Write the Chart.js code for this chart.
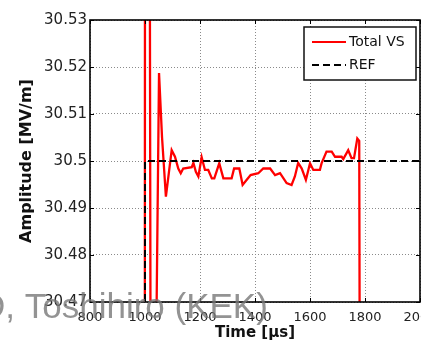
<!DOCTYPE html>
<html lang="en">
<head>
  <meta charset="UTF-8" />
  <title>Total VS vs REF</title>
  <script src="https://cdn.jsdelivr.net/npm/chart.js"></script>
  <style>
    body {
      margin: 0;
      padding: 0;
      background: #fff;
      overflow: hidden;
    }
    .wrap {
      width: 421px;
      height: 344px;
    }
  </style>
</head>
<body>
  <div class="wrap">
    <canvas id="vsChart" width="421" height="344"></canvas>
  </div>

  <script>
    // Total VS amplitude (time in us, amplitude in MV/m)
    const vsTime = [800, 999, 1000, 1017, 1022, 1030, 1051, 1062, 1076, 1097, 1109, 1121, 1130, 1139,
      1170, 1176, 1185, 1194, 1206, 1218, 1230, 1243, 1252, 1270, 1285, 1315, 1324, 1343, 1355,
      1370, 1384, 1412, 1430, 1455, 1473, 1491, 1515, 1533, 1545, 1557, 1570, 1585, 1594, 1600,
      1612, 1636, 1642, 1660, 1679, 1691, 1715, 1721, 1739, 1751, 1760, 1772, 1779, 1783, 2000];
    const vsAmp = [30.40, 30.40, 30.56, 30.56, 30.40, 30.40, 30.5187, 30.505, 30.4924, 30.5023, 30.5009,
      30.4984, 30.4974, 30.4984, 30.4987, 30.4996, 30.4977, 30.4967, 30.5008, 30.4981, 30.4981,
      30.4963, 30.4963, 30.4995, 30.4963, 30.4963, 30.4984, 30.4984, 30.4949, 30.4960, 30.4970,
      30.4974, 30.4984, 30.4984, 30.4970, 30.4974, 30.4953, 30.4949, 30.4967, 30.4996, 30.4984,
      30.4960, 30.4981, 30.4995, 30.4981, 30.4981, 30.4995, 30.5020, 30.5020, 30.5009, 30.5009,
      30.5004, 30.5023, 30.5006, 30.5006, 30.5048, 30.5043, 30.40, 30.40];

    // reference level
    const refTime = [800, 1000, 1000, 2000];
    const refAmp = [30.40, 30.40, 30.50, 30.50];

    const seriesNames = ['Total VS', 'REF'];
    const watermark = 'D, Toshihiro (KEK)';

    const font = 'DejaVu Sans';

    // box around the plot, inward ticks, boxed legend and the grey watermark
    const framePlugin = {
      id: 'frame',
      afterDraw(chart) {
        const ctx = chart.ctx;
        const a = chart.chartArea;
        const xs = chart.scales.x, ys = chart.scales.y;
        ctx.save();
        ctx.strokeStyle = '#000';
        ctx.lineWidth = 1;
        xs.ticks.forEach(t => {
          const px = Math.round(xs.getPixelForValue(t.value)) + 0.5;
          ctx.beginPath();
          ctx.moveTo(px, a.bottom); ctx.lineTo(px, a.bottom - 4);
          ctx.moveTo(px, a.top); ctx.lineTo(px, a.top + 4);
          ctx.stroke();
        });
        ys.ticks.forEach(t => {
          const py = Math.round(ys.getPixelForValue(t.value)) + 0.5;
          ctx.beginPath();
          ctx.moveTo(a.left, py); ctx.lineTo(a.left + 4, py);
          ctx.moveTo(a.right, py); ctx.lineTo(a.right - 4, py);
          ctx.stroke();
        });
        ctx.lineWidth = 1.6;
        ctx.strokeRect(a.left, a.top, a.right - a.left, a.bottom - a.top);

        // legend
        const lx = 304, ly = 27, lw = 112, lh = 53;
        ctx.fillStyle = '#fff';
        ctx.fillRect(lx, ly, lw, lh);
        ctx.lineWidth = 1.5;
        ctx.strokeStyle = '#111';
        ctx.strokeRect(lx, ly, lw, lh);
        ctx.font = '14px "' + font + '"';
        ctx.textBaseline = 'middle';
        ctx.fillStyle = '#111';
        chart.data.datasets.forEach((ds, i) => {
          const cy = ly + 15 + i * 23;
          ctx.beginPath();
          ctx.strokeStyle = ds.borderColor;
          ctx.lineWidth = 2;
          ctx.setLineDash(ds.borderDash || []);
          ctx.moveTo(312, cy); ctx.lineTo(346, cy);
          ctx.stroke();
          ctx.setLineDash([]);
          ctx.fillText(ds.label, 349, cy);
        });

        // watermark
        ctx.font = '35px "Liberation Sans"';
        ctx.textBaseline = 'alphabetic';
        ctx.fillStyle = 'rgba(120,120,120,0.8)';
        ctx.fillText(watermark, -20, 318);
        ctx.restore();
      }
    };

    const ctx = document.getElementById('vsChart').getContext('2d');

    new Chart(ctx, {
      type: 'line',
      data: {
        datasets: [
          {
            label: seriesNames[0],
            data: vsTime.map((t, i) => ({ x: t, y: vsAmp[i] })),
            borderColor: '#ff0000',
            borderWidth: 2.3,
            pointRadius: 0,
            tension: 0,
            order: 1
          },
          {
            label: seriesNames[1],
            data: refTime.map((t, i) => ({ x: t, y: refAmp[i] })),
            borderColor: '#000000',
            borderWidth: 2,
            borderDash: [7, 4],
            pointRadius: 0,
            tension: 0,
            order: 0
          }
        ]
      },
      options: {
        responsive: false,
        animation: false,
        layout: { padding: { top: 20, right: 1, left: 0, bottom: 0 } },
        plugins: {
          legend: { display: false },
          tooltip: { enabled: false }
        },
        scales: {
          x: {
            type: 'linear',
            min: 800,
            max: 2000,
            ticks: {
              stepSize: 200,
              padding: 8,
              color: '#222',
              font: { family: font, size: 13 },
              callback: v => String(v)
            },
            grid: { color: '#8a8a8a', lineWidth: 1, drawTicks: false },
            border: { display: false, dash: [1, 2] },
            title: {
              display: true,
              text: 'Time [µs]',
              color: '#111',
              padding: 2,
              font: { family: font, size: 15, weight: 'bold' }
            },
            afterFit(s) {
              s.height = 42;
              s.paddingLeft = 0;
              s.paddingRight = 0;
            }
          },
          y: {
            min: 30.47,
            max: 30.53,
            ticks: {
              stepSize: 0.01,
              padding: 3,
              color: '#222',
              font: { family: font, size: 15 },
              callback: v => String(Math.round(v * 100) / 100)
            },
            grid: { color: '#8a8a8a', lineWidth: 1, drawTicks: false },
            border: { display: false, dash: [1, 2] },
            title: {
              display: true,
              text: 'Amplitude [MV/m]',
              color: '#111',
              padding: 17,
              font: { family: font, size: 16, weight: 'bold' }
            },
            afterFit(s) {
              s.width = 90;
              s.paddingTop = 0;
              s.paddingBottom = 0;
            }
          }
        }
      },
      plugins: [framePlugin]
    });
  </script>
</body>
</html>
